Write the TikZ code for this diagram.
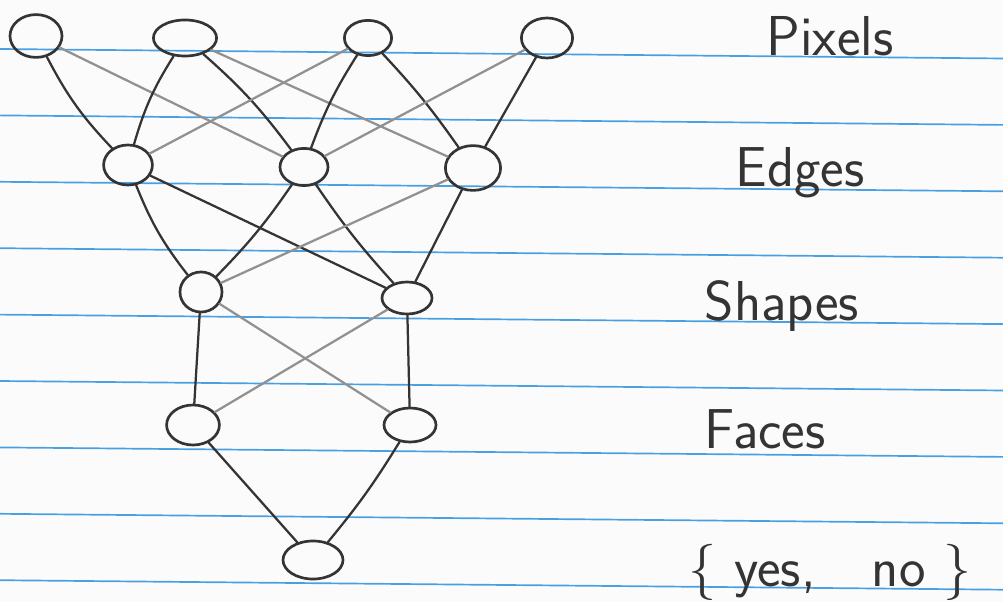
\documentclass[tikz,border=0pt]{standalone}
\usepackage{fontspec}
\usepackage{xcolor}
\usepackage{tikz}
\usetikzlibrary{shapes.geometric}

\definecolor{ruling}{RGB}{72,160,226}
\definecolor{pencil}{RGB}{52,52,52}
\definecolor{faint}{RGB}{145,145,145}
\definecolor{paper}{RGB}{251,251,251}

\begin{document}
\begin{tikzpicture}
 [x=0.025cm, y=-0.025cm,
  unit/.style={ellipse, draw=pencil, line width=1.9pt, inner sep=0pt,
               minimum width=1.3cm, minimum height=1cm},
  wire/.style={draw=pencil, line width=1.6pt, line cap=round},
  weak/.style={draw=faint, line width=1.6pt, line cap=round},
  layer/.style={anchor=base, text=pencil,
                font=\fontsize{40}{48}\selectfont\sffamily},
  ruleline/.style={draw=ruling, line width=1.2pt}]

 % lined paper
 \fill[paper] (0,0) rectangle (1003,602);
 \useasboundingbox (0,0) rectangle (1003,602);
 \foreach \k in {0,...,8}
   \draw[ruleline] (0,{49+66.4*\k}) -- (1003,{58.5+66.4*\k});

 % units, one row per layer
 \node[unit, minimum width=1.3cm,  minimum height=1.07cm] (p1) at (36,36)  {};
 \node[unit, minimum width=1.58cm, minimum height=0.9cm]  (p2) at (185,38) {};
 \node[unit, minimum width=1.18cm, minimum height=0.88cm] (p3) at (368,38) {};
 \node[unit, minimum width=1.28cm, minimum height=1cm]    (p4) at (547,38) {};

 \node[unit, minimum width=1.22cm, minimum height=1cm]    (e1) at (128,165) {};
 \node[unit, minimum width=1.2cm,  minimum height=0.93cm] (e2) at (304,167) {};
 \node[unit, minimum width=1.38cm, minimum height=1.12cm] (e3) at (473,168) {};

 \node[unit, minimum width=1.05cm, minimum height=1cm]    (s1) at (201,292) {};
 \node[unit, minimum width=1.25cm, minimum height=0.8cm]  (s2) at (407,298) {};

 \node[unit, minimum width=1.32cm, minimum height=1cm]    (f1) at (193,425) {};
 \node[unit, minimum width=1.3cm,  minimum height=0.85cm] (f2) at (410,425) {};

 \node[unit, minimum width=1.5cm,  minimum height=0.95cm] (out) at (313,560) {};

 % layer names
 \node[layer] (pixels) at (830,56)  {Pixels};
 \node[layer] (edges)  at (800,187) {Edges};
 \node[layer] (shapes) at (782,320) {Shapes};
 \node[layer] (faces)  at (765,448) {Faces};
 \node[layer] (yesno)  at (830,586) {\{\ yes,\quad no\ \}};

 \path (p1) edge [wire, bend right=8] (e1)
            edge [weak]               (e2)
       (p2) edge [wire, bend right=8] (e1)
            edge [wire, bend left=6]  (e2)
            edge [weak]               (e3)
       (p3) edge [weak]               (e1)
            edge [wire, bend right=6] (e2)
            edge [wire, bend left=4]  (e3)
       (p4) edge [weak]               (e2)
            edge [wire]               (e3)
       (e1) edge [wire, bend right=8] (s1)
            edge [wire]               (s2)
       (e2) edge [wire, bend left=5]  (s1)
            edge [wire, bend right=4] (s2)
       (e3) edge [weak]               (s1)
            edge [wire]               (s2)
       (s1) edge [wire]               (f1)
            edge [weak]               (f2)
       (s2) edge [weak]               (f1)
            edge [wire]               (f2)
       (f1) edge [wire]               (out)
       (f2) edge [wire, bend left=4]  (out);
\end{tikzpicture}
\end{document}
